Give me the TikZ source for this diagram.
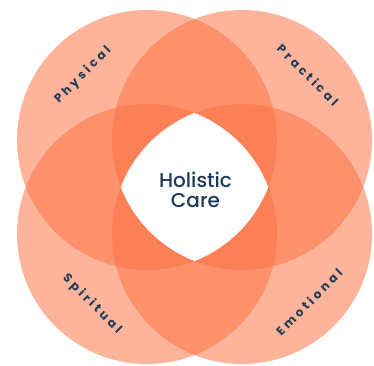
\documentclass[tikz,border=0pt]{standalone}
\usepackage{fontspec}
\newfontfamily\labelfont{Poppins}[LetterSpace=26,UprightFont={* Bold}]
\newfontfamily\centerfont{Poppins}[UprightFont={* Medium}]
\definecolor{petal}{RGB}{251,114,66}
\definecolor{navy}{RGB}{31,58,87}
\begin{document}
\begin{tikzpicture}[x=1pt,y=1pt,
  petalfill/.style={fill=petal,fill opacity=0.53,draw=none},
  sidelabel/.style={font=\labelfont\fontsize{12}{13}\selectfont,text=navy,inner sep=0pt},
  centrelabel/.style={font=\centerfont\fontsize{20}{20.5}\selectfont,text=navy,align=center,inner sep=0pt}]
\useasboundingbox (0,0) rectangle (374,365);
\coordinate (ctl) at (147,225);
\coordinate (ctr) at (242,225);
\coordinate (cbl) at (147,131);
\coordinate (cbr) at (242,131);
\fill[petalfill] (ctl) circle (130);
\fill[petalfill] (ctr) circle (130);
\fill[petalfill] (cbl) circle (130);
\fill[petalfill] (cbr) circle (130);
\begin{scope}
  \clip (ctl) circle (130);
  \clip (ctr) circle (130);
  \clip (cbl) circle (130);
  \fill[white] (cbr) circle (130);
\end{scope}
\node[sidelabel,rotate=45] (physical) at (83,290) {Physical};
\node[sidelabel,rotate=-45] (practical) at (308,290) {Practical};
\node[sidelabel,rotate=-45] (spiritual) at (92,61) {Spiritual};
\node[sidelabel,rotate=45] (emotional) at (309,63) {Emotional};
\node[centrelabel] (holistic) at (195.5,175) {Holistic\\Care};
\end{tikzpicture}
\end{document}
